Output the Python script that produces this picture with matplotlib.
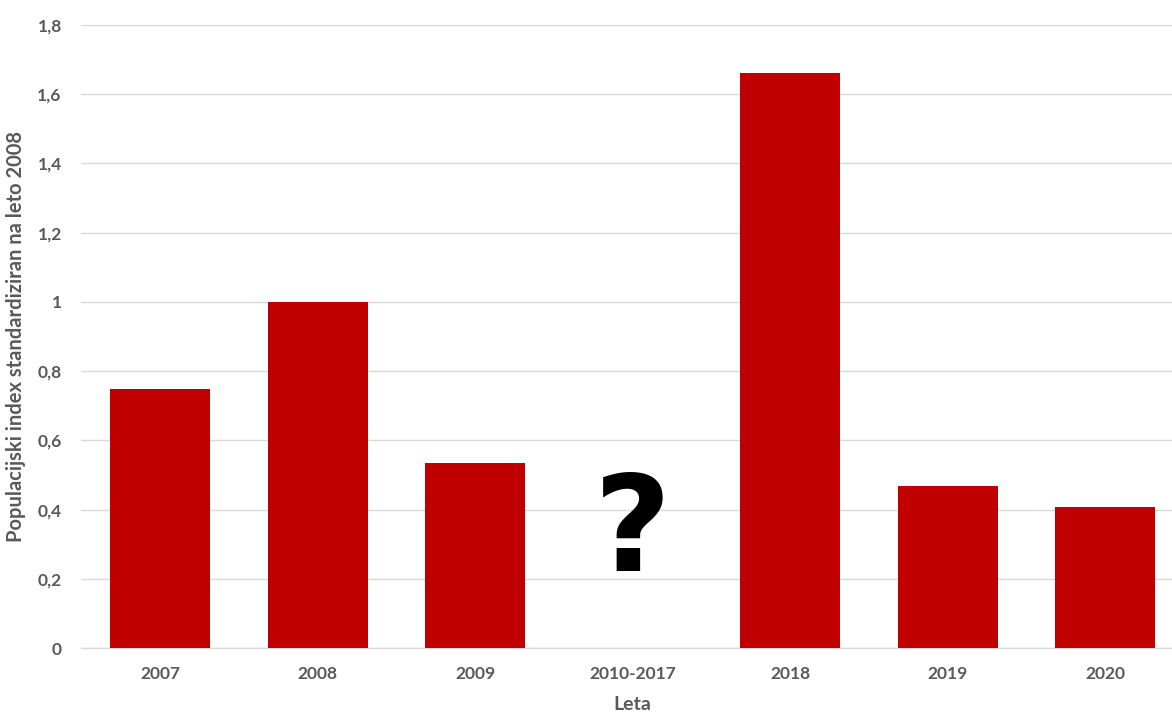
import numpy as np
import matplotlib
matplotlib.use("Agg")
import matplotlib.pyplot as plt

categories = ["2007", "2008", "2009", "2010-2017", "2018", "2019", "2020"]
values = [0.747, 1.0, 0.535, np.nan, 1.66, 0.469, 0.409]
yticks = [0, 0.2, 0.4, 0.6, 0.8, 1.0, 1.2, 1.4, 1.6, 1.8]
ytick_labels = ["0", "0,2", "0,4", "0,6", "0,8", "1", "1,2", "1,4", "1,6", "1,8"]
missing_label = "?"
missing_index = 3

plt.rcParams['font.family'] = ['Lato', 'DejaVu Sans']
grey = "#595959"

fig = plt.figure(figsize=(11.72, 7.14), dpi=100)
ax = fig.add_axes([0.0693, 0.092, 0.941, 0.8735])

x = np.arange(len(categories))
ax.bar(x, values, width=0.635, color="#c00000", zorder=3)

ax.set_xlim(-0.5, len(categories) - 0.5)
ax.set_ylim(0, 1.8)
ax.set_yticks(yticks)
ax.set_yticklabels(ytick_labels)
ax.set_xticks(x)
ax.set_xticklabels(categories)

ax.grid(axis="y", color="#d9d9d9", linewidth=1.0, zorder=0)
ax.set_axisbelow(True)
for s in ["top", "right", "left"]:
    ax.spines[s].set_visible(False)
ax.spines["bottom"].set_color("#d9d9d9")
ax.spines["bottom"].set_linewidth(1.0)

ax.tick_params(axis="both", length=0, labelsize=12.5, labelcolor=grey)
ax.tick_params(axis="y", pad=14)
ax.tick_params(axis="x", pad=13)
for lbl in ax.get_xticklabels() + ax.get_yticklabels():
    lbl.set_fontweight("bold")

ax.set_xlabel("Leta", fontsize=14, fontweight="bold", color=grey, labelpad=10)
ax.set_ylabel("Populacijski index standardiziran na leto 2008", fontsize=14.5,
              fontweight="bold", color=grey, labelpad=8)

ax.text(missing_index, 0.33, missing_label, ha="center", va="center",
        fontsize=96, fontweight="bold", color="black",
        family=["DejaVu Sans"], zorder=4)

fig.savefig("out.png", dpi=100)
